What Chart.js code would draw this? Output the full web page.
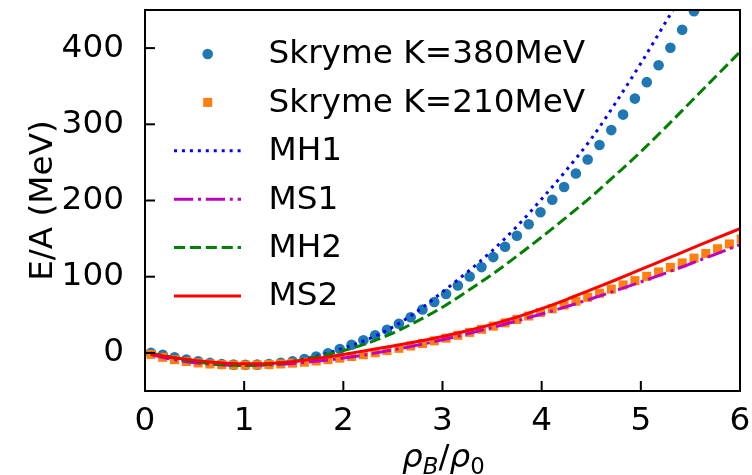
<!DOCTYPE html>
<html lang="en">
<head>
<meta charset="UTF-8" />
<title>E/A vs density</title>
<script src="https://cdn.jsdelivr.net/npm/chart.js@4.4.1/dist/chart.umd.min.js"></script>
<style>
  html, body { margin: 0; padding: 0; background: #fff; }
  .chart-container { position: relative; width: 752px; height: 475px; }
</style>
</head>
<body>
<div class="chart-container"><canvas id="eos-chart" width="752" height="475"></canvas></div>
<script>
// density grid of the Skyrme points (rho_B / rho_0)
const rho = [0.060, 0.179, 0.298, 0.417, 0.536, 0.655, 0.774, 0.893, 1.012, 1.131,
  1.250, 1.369, 1.488, 1.607, 1.726, 1.845, 1.964, 2.083, 2.202, 2.321,
  2.440, 2.560, 2.679, 2.798, 2.917, 3.036, 3.155, 3.274, 3.393, 3.512,
  3.631, 3.750, 3.869, 3.988, 4.107, 4.226, 4.345, 4.464, 4.583, 4.702,
  4.821, 4.940, 5.060, 5.179, 5.298, 5.417, 5.536, 5.655, 5.774, 5.893, 6.012]

const skyrme380 = [0, -2.5, -5.7, -8.6, -11.1, -13.1, -14.6, -15.4, -15.7, -15.4,
  -14.5, -13.0, -10.9, -8.1, -4.7, -0.6, 5.2, 10.6, 16.5, 23.1,
  30.4, 38.2, 46.8, 56.9, 66.8, 77.2, 88.4, 100.2, 112.6, 125.7,
  139.4, 153.8, 168.8, 184.5, 200.9, 217.8, 235.5, 253.8, 272.8, 292.4,
  312.7, 333.7, 355.3, 377.5, 400.4, 424.0, 448.3, 473.2]

const skyrme210 = [-1.9, -5.8, -8.9, -11.3, -13.2, -14.5, -15.4, -15.9, -16.0, -15.8,
  -15.3, -14.5, -13.5, -12.2, -10.6, -8.9, -6.9, -4.7, -2.4, 0.2,
  3.0, 6.0, 9.1, 12.3, 15.8, 19.3, 23.1, 26.9, 31.0, 35.1,
  39.4, 43.9, 48.4, 53.1, 57.9, 62.8, 67.8, 73.0, 78.3, 83.7,
  89.2, 94.8, 100.5, 106.2, 112.2, 118.1, 124.4, 130.5, 136.7, 143.0, 149.7]

// model curves
const rhoLine = [0.06, 0.25, 0.5, 0.75, 1, 1.25, 1.5, 1.75, 2, 2.25, 2.5, 2.75, 3,
  3.25, 3.5, 3.75, 4, 4.25, 4.5, 4.75, 5, 5.25, 5.5, 5.75, 6]
const mh1 = [-0.5, -5.5, -11.3, -15.0, -16.2, -14.8, -10.8, -3.8, 6, 18, 34, 55, 80,
  106, 134, 166, 202, 240, 281, 329, 380, 434, 488, 543, 598]
const ms1 = [-2, -7.8, -12.8, -15.5, -16.3, -15.7, -13.8, -10.7, -6.8, -1.8, 4, 10.2, 17.2,
  25, 33.3, 42, 51, 60.8, 71, 81.9, 93.1, 104.8, 117, 129.4, 142]
const mh2 = [-0.5, -5.5, -11.3, -15.0, -16.2, -15.0, -11.2, -4.8, 3, 13, 26, 42, 60,
  81, 103, 127, 152, 178, 205, 234, 264, 296, 329, 362, 395]
const ms2 = [-1.5, -5.5, -10, -13, -14.3, -13.8, -11.2, -7, -2, 3.5, 9, 15, 21.5,
  29, 37.5, 47, 58, 70, 83, 96, 109.5, 123, 136.5, 150, 163]

const xTicks = [0, 1, 2, 3, 4, 5, 6]
const yTicks = [0, 100, 200, 300, 400]

const FONT = 'DejaVu Sans'
const FS = 32.7

function pts(xs, ys) {
  return ys.map((v, i) => ({ x: xs[i], y: v }))
}

function lineSet(label, xs, ys, color, dash, order) {
  return {
    label: label,
    data: pts(xs, ys),
    showLine: true,
    borderColor: color,
    backgroundColor: color,
    borderWidth: 3,
    borderDash: dash,
    pointRadius: 0,
    cubicInterpolationMode: 'monotone',
    order: order,
  }
}

// inward ticks, full frame, legend and the x label with subscripts
const framePlugin = {
  id: 'frame',
  afterDraw(chart) {
    const ctx = chart.ctx
    const a = chart.chartArea
    const xs = chart.scales.x
    const ys = chart.scales.y
    ctx.save()
    ctx.strokeStyle = '#000'
    ctx.lineWidth = 2
    ctx.setLineDash([])
    xTicks.forEach(t => {
      const px = xs.getPixelForValue(t)
      ctx.beginPath(); ctx.moveTo(px, a.bottom); ctx.lineTo(px, a.bottom - 10); ctx.stroke()
    })
    yTicks.forEach(t => {
      const py = ys.getPixelForValue(t)
      ctx.beginPath(); ctx.moveTo(a.left, py); ctx.lineTo(a.left + 10, py); ctx.stroke()
    })
    ctx.strokeRect(a.left, a.top, a.right - a.left, a.bottom - a.top)

    // legend
    const rowTop = 54
    const rowGap = 48.4
    ctx.font = FS + 'px "' + FONT + '"'
    ctx.textBaseline = 'middle'
    ctx.textAlign = 'left'
    chart.data.datasets.forEach((ds, i) => {
      const y = rowTop + i * rowGap
      if (ds.showLine) {
        ctx.strokeStyle = ds.borderColor
        ctx.lineWidth = ds.borderWidth
        ctx.setLineDash(ds.borderDash || [])
        ctx.beginPath(); ctx.moveTo(174, y); ctx.lineTo(241, y); ctx.stroke()
        ctx.setLineDash([])
      } else {
        ctx.fillStyle = ds.backgroundColor
        if (ds.pointStyle === 'rect') {
          const s = ds.pointRadius * Math.SQRT1_2
          ctx.fillRect(207.7 - s, y - s, 2 * s, 2 * s)
        } else {
          ctx.beginPath(); ctx.arc(207.7, y, ds.pointRadius, 0, Math.PI * 2); ctx.fill()
        }
      }
      ctx.fillStyle = '#000'
      ctx.fillText(ds.label, 268.5, y + 1)
    })

    // x label: rho_B / rho_0
    const base = 467
    const sub = FS * 0.7
    let x = 402
    ctx.textBaseline = 'alphabetic'
    const parts = [
      ['ρ', 'italic', FS, 0],
      ['B', 'italic', sub, 7],
      ['/', 'normal', FS, 0],
      ['ρ', 'italic', FS, 0],
      ['0', 'normal', sub, 7],
    ]
    parts.forEach(p => {
      ctx.font = p[1] + ' ' + p[2] + 'px "' + FONT + '"'
      ctx.fillText(p[0], x, base + p[3])
      x += ctx.measureText(p[0]).width
    })
    ctx.restore()
  },
}

new Chart(document.getElementById('eos-chart'), {
  type: 'scatter',
  data: {
    datasets: [
      {
        label: 'Skryme K=380MeV',
        data: pts(rho, skyrme380),
        pointStyle: 'circle',
        pointRadius: 5.3,
        borderWidth: 0,
        backgroundColor: '#1f77b4',
        order: 6,
      },
      {
        label: 'Skryme K=210MeV',
        data: pts(rho, skyrme210),
        pointStyle: 'rect',
        pointRadius: 6.4,
        borderWidth: 0,
        backgroundColor: '#ff7f0e',
        order: 5,
      },
      lineSet('MH1', rhoLine, mh1, '#0000ff', [3, 4.95], 4),
      lineSet('MS1', rhoLine, ms1, '#bf00bf', [19.2, 4.8, 3, 4.8], 3),
      lineSet('MH2', rhoLine, mh2, '#008000', [11.1, 4.8], 2),
      lineSet('MS2', rhoLine, ms2, '#ff0000', [], 1),
    ],
  },
  options: {
    responsive: false,
    animation: false,
    events: [],
    layout: { padding: { top: 10, right: 12, left: 0, bottom: 0 } },
    plugins: { legend: { display: false }, tooltip: { enabled: false } },
    scales: {
      x: {
        type: 'linear',
        min: 0,
        max: 6,
        grid: { display: false },
        border: { display: false },
        afterBuildTicks: s => { s.ticks = xTicks.map(v => ({ value: v })) },
        afterFit: s => { s.height = 84; s.paddingLeft = 0; s.paddingRight = 0 },
        ticks: { color: '#000', padding: 3, maxRotation: 0, font: { family: FONT, size: FS } },
      },
      y: {
        type: 'linear',
        min: -50,
        max: 450,
        grid: { display: false },
        border: { display: false },
        afterBuildTicks: s => { s.ticks = yTicks.map(v => ({ value: v })) },
        afterFit: s => { s.width = 145; s.paddingTop = 0; s.paddingBottom = 0 },
        ticks: { color: '#000', padding: 13, font: { family: FONT, size: FS } },
        title: {
          display: true,
          text: 'E/A (MeV)',
          color: '#000',
          padding: { top: 24, bottom: 0 },
          font: { family: FONT, size: FS },
        },
      },
    },
  },
  plugins: [framePlugin],
})
</script>
</body>
</html>
